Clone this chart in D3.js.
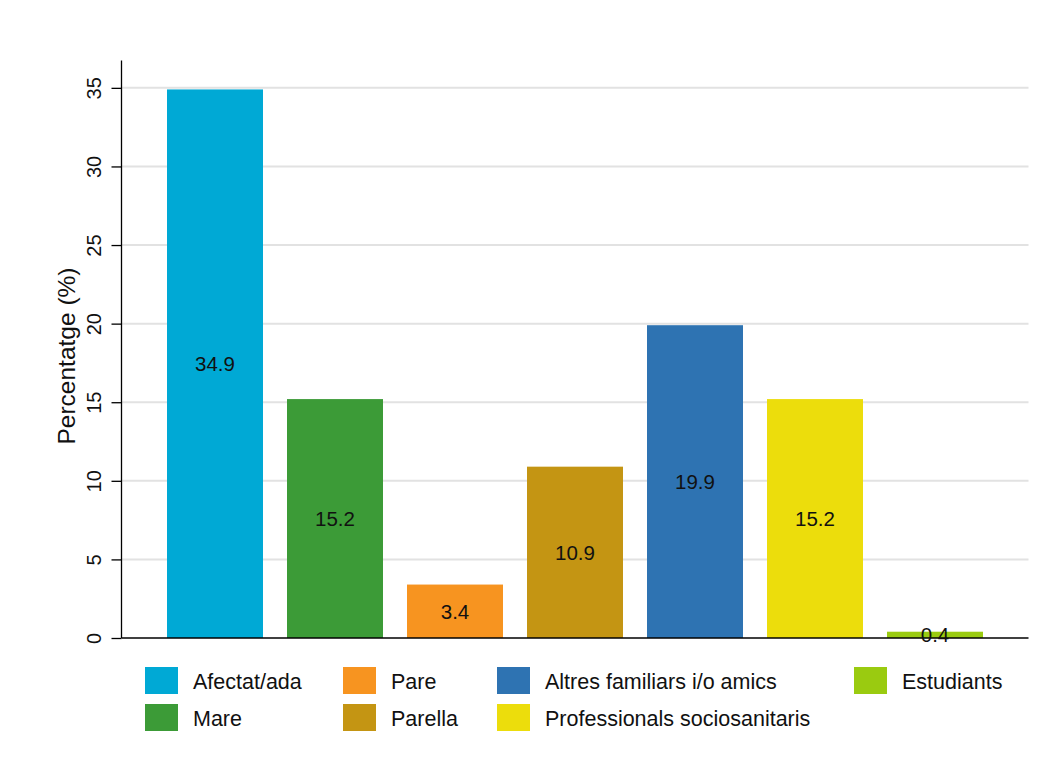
<!DOCTYPE html>
<html><head><meta charset="utf-8">
<script src="https://cdn.jsdelivr.net/npm/d3@7"></script>
<style>
html,body{margin:0;padding:0;background:#fff;}
svg{display:block;font-family:"Liberation Sans",Arial,Helvetica,sans-serif;}
</style></head>
<body>
<svg id="chart" width="1054" height="780"></svg>
<script>
const categories = ["Afectat/ada","Mare","Pare","Parella","Altres familiars i/o amics","Professionals sociosanitaris","Estudiants"];
const values = [34.9, 15.2, 3.4, 10.9, 19.9, 15.2, 0.4];
const colors = ["#00a9d5","#3c9b37","#f79420","#c49513","#2e73b2","#ecdd0c","#9acb10"];
const yTicks = [0,5,10,15,20,25,30,35];
const yTitle = "Percentatge (%)";
const legendCols = [[0,1],[2,3],[4,5],[6]];

const svg = d3.select("#chart");
svg.append("rect").attr("width",1054).attr("height",780).attr("fill","#fff");

const x = d3.scaleBand().domain(categories).range([155,995]).paddingInner(0.2).paddingOuter(0.1);
const y = d3.scaleLinear().domain([0, 34.9*1.05]).range([638,62]);
const xLeft = 121.5, xRight = 1028.5;

// gridlines
svg.append("g").selectAll("line").data(yTicks.filter(d=>d>0)).join("line")
  .attr("x1",xLeft).attr("x2",xRight)
  .attr("y1",d=>y(d)).attr("y2",d=>y(d))
  .attr("stroke","#e2e2e2").attr("stroke-width",2);

// bars
svg.append("g").selectAll("rect").data(categories).join("rect")
  .attr("x",d=>x(d)).attr("width",x.bandwidth())
  .attr("y",(d,i)=>y(values[i])).attr("height",(d,i)=>y(0)-y(values[i]))
  .attr("fill",(d,i)=>colors[i]);

// y axis
const yAxis = d3.axisLeft(y).tickValues(yTicks).tickSize(10).tickPadding(9).tickFormat(d3.format("d"));
const gy = svg.append("g").attr("transform",`translate(${xLeft},0)`).call(yAxis);
gy.select(".domain").remove();
gy.selectAll(".tick line").attr("stroke","#000").attr("stroke-width",1.3);
gy.selectAll(".tick text")
  .attr("font-size",20).attr("fill","#111")
  .attr("x",null).attr("dy",null)
  .attr("text-anchor","middle")
  .attr("transform","translate(-20.5,0) rotate(-90)")
  .attr("dy","0");
svg.append("line").attr("x1",xLeft).attr("x2",xLeft).attr("y1",y.range()[1]-1.5).attr("y2",y(0))
  .attr("stroke","#000").attr("stroke-width",1.3);

// x axis line
const xAxis = d3.axisBottom(x).tickSize(0).tickFormat("");
const gx = svg.append("g").attr("transform",`translate(0,${y(0)})`).call(xAxis);
gx.select(".domain").remove();
svg.append("line").attr("x1",xLeft).attr("x2",xRight).attr("y1",y(0)).attr("y2",y(0))
  .attr("stroke","#000").attr("stroke-width",1.3);

// value labels
svg.append("g").selectAll("text").data(categories).join("text")
  .attr("x",d=>x(d)+x.bandwidth()/2)
  .attr("y",(d,i)=>(y(values[i])+y(0))/2)
  .attr("text-anchor","middle").attr("dominant-baseline","central")
  .attr("font-size",20.5).attr("fill","#111")
  .text((d,i)=>d3.format(".1f")(values[i]));

// y title
svg.append("text")
  .attr("transform","translate(75,356) rotate(-90)")
  .attr("text-anchor","middle").attr("font-size",24.5).attr("fill","#111")
  .text(yTitle);

// legend
const colX = [145,343,497,854];
const rowY = [667,704];
const lg = svg.append("g");
legendCols.forEach((col,ci)=>{
  col.forEach((idx,ri)=>{
    lg.append("rect").attr("x",colX[ci]).attr("y",rowY[ri]).attr("width",33).attr("height",27).attr("fill",colors[idx]);
    lg.append("text").attr("x",colX[ci]+48).attr("y",rowY[ri]+21.5)
      .attr("font-size",21.5).attr("fill","#111").text(categories[idx]);
  });
});
</script>
</body></html>
